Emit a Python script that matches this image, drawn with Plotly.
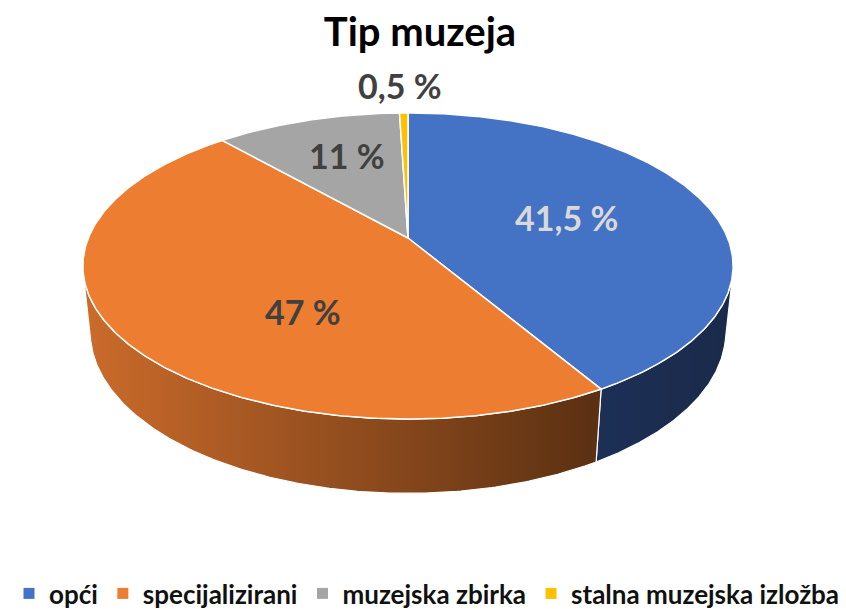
import numpy as np
import plotly.graph_objects as go

# ---- data ----
categories = ["opći", "specijalizirani", "muzejska zbirka", "stalna muzejska izložba"]
values = [41.5, 47, 11, 0.5]
value_labels = ["41,5 %", "47 %", "11 %", "0,5 %"]
title_text = "Tip muzeja"

# ---- style ----
top_colors = ["#4472c4", "#ed7d31", "#a5a5a5", "#ffc000"]
side_grad = [["#1c2f55", "#1a2a4a"], ["#cb6b2b", "#5a3012"], ["#8a8a8a", "#6a6a6a"], ["#c09000", "#a07800"]]
label_colors = ["#d9d9d9", "#404040", "#404040", "#404040"]
label_radius = [0.526, 0.544, 0.66, 1.266]
label_angle_override = [None, 213.6, 341.2, 358.6]
FONT = "Lato"

# page offset (default body margin) and figure size
OFF = 8
W, H = 846, 609

# ---- perspective camera model for a 3D pie ----
X0, Y0 = 408.0, 238.0
F = 1548.6
D0 = 4.845
SA = 0.4628
CA = np.sqrt(1 - SA ** 2)
DEPTH = 0.2343


def proj(theta, r=1.0, y=0.0):
    u = r * np.sin(theta)
    v = -r * np.cos(theta)
    zc = D0 - y * SA - v * CA
    X = X0 + F * u / zc
    Y = Y0 + F * (v * SA - y * CA) / zc
    return X, Y


fig = go.Figure()

total = float(sum(values))
bounds = np.concatenate([[0], np.cumsum(values)]) / total * 2 * np.pi

# visible range of the cylinder wall
Dc = D0 * CA
th1 = np.arccos(-1.0 / Dc)
th2 = 2 * np.pi - th1

# side walls
for i in range(len(values)):
    a, b = bounds[i], bounds[i + 1]
    s, e = max(a, th1), min(b, th2)
    if e <= s:
        continue
    t = np.linspace(s, e, 200)
    xt, yt = proj(t, 1.0, 0.0)
    xb, yb = proj(t[::-1], 1.0, -DEPTH)
    xs = np.concatenate([xt, xb, xt[:1]])
    ys = np.concatenate([yt, yb, yt[:1]])
    fig.add_trace(go.Scatter(
        x=xs, y=ys, mode="lines", fill="toself",
        line=dict(color="white", width=1.2),
        fillgradient=dict(type="horizontal",
                          colorscale=[[0, side_grad[i][0]], [1, side_grad[i][1]]],
                          start=85 if i == 1 else float(np.min(xs)),
                          stop=600 if i == 1 else float(np.max(xs))),
        hoverinfo="skip", showlegend=False))

# top faces
for i in range(len(values)):
    a, b = bounds[i], bounds[i + 1]
    t = np.linspace(a, b, max(int((b - a) / (2 * np.pi) * 720), 4))
    xa, ya = proj(t, 1.0, 0.0)
    xc, yc = proj(0.0, 0.0, 0.0)
    xs = np.concatenate([[xc], xa, [xc]])
    ys = np.concatenate([[yc], ya, [yc]])
    fig.add_trace(go.Scatter(
        x=xs, y=ys, mode="lines", fill="toself",
        fillcolor=top_colors[i], line=dict(color="white", width=1.5),
        hoverinfo="skip", showlegend=False))

# value labels
for i in range(len(values)):
    mid = (bounds[i] + bounds[i + 1]) / 2
    ang = np.deg2rad(label_angle_override[i]) if label_angle_override[i] is not None else mid
    lx, ly = proj(ang, label_radius[i], 0.0)
    fig.add_annotation(x=float(lx), y=float(ly), text=value_labels[i], showarrow=False,
                       font=dict(family=FONT, size=34, color=label_colors[i], weight="bold"),
                       xanchor="center", yanchor="middle")

# legend entries
for i, c in enumerate(categories):
    fig.add_trace(go.Scatter(
        x=[None], y=[None], mode="markers", name=c,
        marker=dict(symbol="square", size=11, color=top_colors[i]),
        showlegend=True))

fig.update_layout(
    width=W, height=H, autosize=False,
    margin=dict(l=0, r=0, t=0, b=0),
    paper_bgcolor="white", plot_bgcolor="white",
    title=dict(text=title_text, x=(420 - OFF) / W, xanchor="center",
               y=1 - (32 - OFF) / H, yanchor="middle",
               font=dict(family=FONT, size=40, color="black", weight="bold")),
    xaxis=dict(range=[OFF, OFF + W], visible=False, fixedrange=True),
    yaxis=dict(range=[OFF + H, OFF], visible=False, fixedrange=True),
    legend=dict(orientation="h", x=(427 - OFF) / W, xanchor="center",
                y=0, yanchor="bottom",
                font=dict(family=FONT, size=26, color="#111111", weight="bold"),
                itemwidth=30, tracegroupgap=0, bgcolor="rgba(0,0,0,0)"),
    showlegend=True,
)

fig.write_html("out.html")
